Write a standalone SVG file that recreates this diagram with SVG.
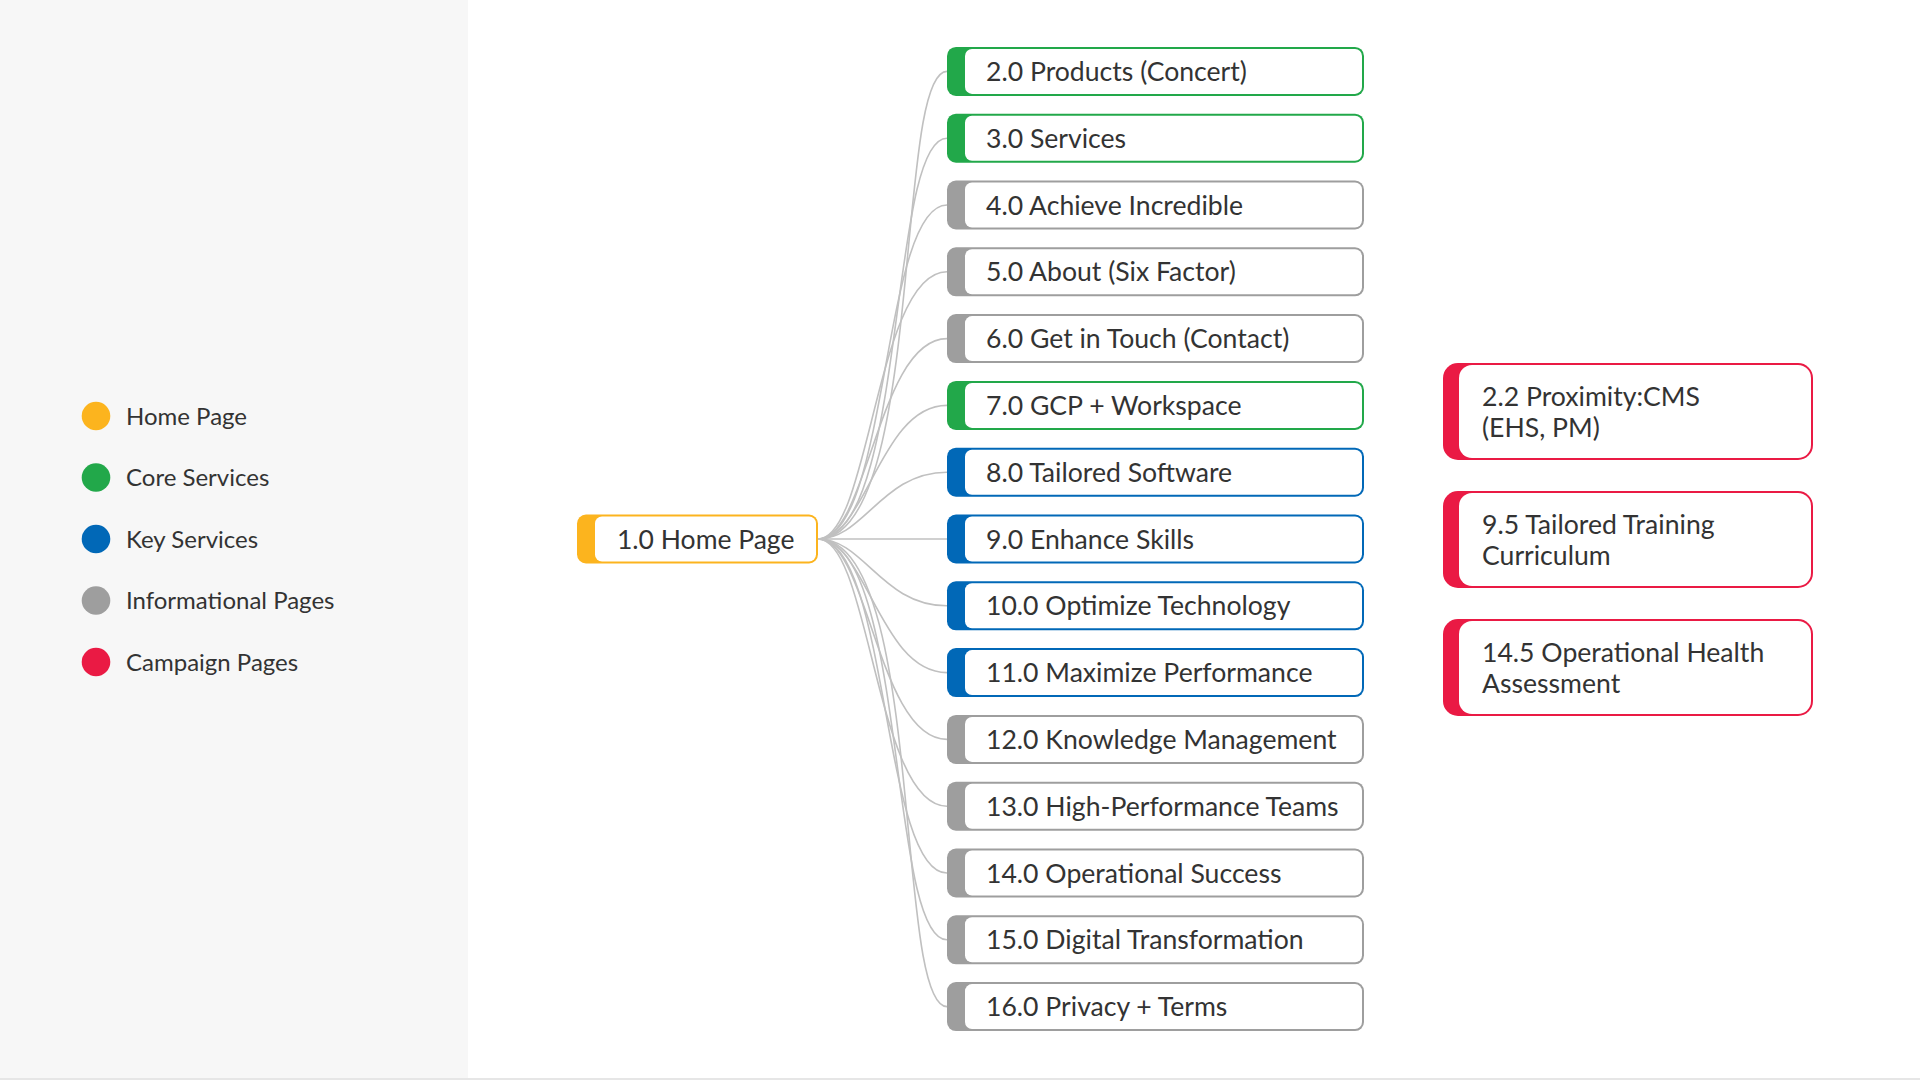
<svg xmlns="http://www.w3.org/2000/svg" width="1920" height="1080" viewBox="0 0 1920 1080">
<defs>
<style>
text { font-family: "Lato", "Liberation Sans", sans-serif; fill: #333333; }
.lg { font-size: 24px; }
.nt { font-size: 26.6px; }
.ht { font-size: 26.5px; }
.inner { fill: #ffffff; }
.edge { fill: none; stroke: #c0c0c0; stroke-width: 1.6; }
.home { fill: #FCB41E; }
.core { fill: #22A84A; }
.key { fill: #0168B7; }
.info { fill: #9E9E9E; }
.camp { fill: #EA1A44; }
</style>
</defs>
<rect x="0" y="0" width="1920" height="1080" fill="#ffffff"/>
<rect x="0" y="0" width="468" height="1078" fill="#f7f7f7"/>
<rect x="0" y="1078" width="1920" height="2" fill="#e6e6e6"/>

<g id="legend">
<g id="legend-home"><circle class="home" cx="96" cy="416" r="14.3"/><text class="lg" x="126" y="424.5">Home Page</text></g>
<g id="legend-core"><circle class="core" cx="96" cy="477.5" r="14.3"/><text class="lg" x="126" y="486">Core Services</text></g>
<g id="legend-key"><circle class="key" cx="96" cy="539" r="14.3"/><text class="lg" x="126" y="547.5">Key Services</text></g>
<g id="legend-info"><circle class="info" cx="96" cy="600.5" r="14.3"/><text class="lg" x="126" y="609">Informational Pages</text></g>
<g id="legend-camp"><circle class="camp" cx="96" cy="662" r="14.3"/><text class="lg" x="126" y="670.5">Campaign Pages</text></g>
</g>

<g id="connectors">
<path class="edge" d="M818 539 C925 539 894 71.4 947 71.4"/>
<path class="edge" d="M818 539 C906.8 539 888 138.2 947 138.2"/>
<path class="edge" d="M818 539 C888.4 539 882 205 947 205"/>
<path class="edge" d="M818 539 C870 539 876 271.8 947 271.8"/>
<path class="edge" d="M818 539 C868 539 878 338.6 947 338.6"/>
<path class="edge" d="M818 539 C866 539 880 405.4 947 405.4"/>
<path class="edge" d="M818 539 C864 539 882 472.2 947 472.2"/>
<path class="edge" d="M818 539 L947 539"/>
<path class="edge" d="M818 539 C864 539 882 605.8 947 605.8"/>
<path class="edge" d="M818 539 C866 539 880 672.6 947 672.6"/>
<path class="edge" d="M818 539 C868 539 878 739.4 947 739.4"/>
<path class="edge" d="M818 539 C870 539 876 806.2 947 806.2"/>
<path class="edge" d="M818 539 C888.4 539 882 873 947 873"/>
<path class="edge" d="M818 539 C906.8 539 888 939.8 947 939.8"/>
<path class="edge" d="M818 539 C925 539 894 1006.6 947 1006.6"/>
</g>

<g id="n1-0">
<rect class="home" x="577" y="514.5" width="241" height="49" rx="9"/>
<rect class="inner" x="595" y="516.5" width="221" height="45" rx="7"/>
<text class="ht" x="617" y="548.6">1.0 Home Page</text>
</g>

<g id="n2-0"><rect class="core" x="947" y="46.9" width="417" height="49" rx="9"/><rect class="inner" x="965" y="48.9" width="397" height="45" rx="7"/><text class="nt" x="986" y="80.9">2.0 Products (Concert)</text></g>
<g id="n3-0"><rect class="core" x="947" y="113.7" width="417" height="49" rx="9"/><rect class="inner" x="965" y="115.7" width="397" height="45" rx="7"/><text class="nt" x="986" y="147.7">3.0 Services</text></g>
<g id="n4-0"><rect class="info" x="947" y="180.5" width="417" height="49" rx="9"/><rect class="inner" x="965" y="182.5" width="397" height="45" rx="7"/><text class="nt" x="986" y="214.5">4.0 Achieve Incredible</text></g>
<g id="n5-0"><rect class="info" x="947" y="247.3" width="417" height="49" rx="9"/><rect class="inner" x="965" y="249.3" width="397" height="45" rx="7"/><text class="nt" x="986" y="281.3">5.0 About (Six Factor)</text></g>
<g id="n6-0"><rect class="info" x="947" y="314.1" width="417" height="49" rx="9"/><rect class="inner" x="965" y="316.1" width="397" height="45" rx="7"/><text class="nt" x="986" y="348.1">6.0 Get in Touch (Contact)</text></g>
<g id="n7-0"><rect class="core" x="947" y="380.9" width="417" height="49" rx="9"/><rect class="inner" x="965" y="382.9" width="397" height="45" rx="7"/><text class="nt" x="986" y="414.9">7.0 GCP + Workspace</text></g>
<g id="n8-0"><rect class="key" x="947" y="447.7" width="417" height="49" rx="9"/><rect class="inner" x="965" y="449.7" width="397" height="45" rx="7"/><text class="nt" x="986" y="481.7">8.0 Tailored Software</text></g>
<g id="n9-0"><rect class="key" x="947" y="514.5" width="417" height="49" rx="9"/><rect class="inner" x="965" y="516.5" width="397" height="45" rx="7"/><text class="nt" x="986" y="548.5">9.0 Enhance Skills</text></g>
<g id="n10-0"><rect class="key" x="947" y="581.3" width="417" height="49" rx="9"/><rect class="inner" x="965" y="583.3" width="397" height="45" rx="7"/><text class="nt" x="986" y="615.3">10.0 Optimize Technology</text></g>
<g id="n11-0"><rect class="key" x="947" y="648.1" width="417" height="49" rx="9"/><rect class="inner" x="965" y="650.1" width="397" height="45" rx="7"/><text class="nt" x="986" y="682.1">11.0 Maximize Performance</text></g>
<g id="n12-0"><rect class="info" x="947" y="714.9" width="417" height="49" rx="9"/><rect class="inner" x="965" y="716.9" width="397" height="45" rx="7"/><text class="nt" x="986" y="748.9">12.0 Knowledge Management</text></g>
<g id="n13-0"><rect class="info" x="947" y="781.7" width="417" height="49" rx="9"/><rect class="inner" x="965" y="783.7" width="397" height="45" rx="7"/><text class="nt" x="986" y="815.7">13.0 High-Performance Teams</text></g>
<g id="n14-0"><rect class="info" x="947" y="848.5" width="417" height="49" rx="9"/><rect class="inner" x="965" y="850.5" width="397" height="45" rx="7"/><text class="nt" x="986" y="882.5">14.0 Operational Success</text></g>
<g id="n15-0"><rect class="info" x="947" y="915.3" width="417" height="49" rx="9"/><rect class="inner" x="965" y="917.3" width="397" height="45" rx="7"/><text class="nt" x="986" y="949.3">15.0 Digital Transformation</text></g>
<g id="n16-0"><rect class="info" x="947" y="982.1" width="417" height="49" rx="9"/><rect class="inner" x="965" y="984.1" width="397" height="45" rx="7"/><text class="nt" x="986" y="1016.1">16.0 Privacy + Terms</text></g>

<g id="n2-2"><rect class="camp" x="1443" y="363" width="370" height="97" rx="15"/><rect class="inner" x="1459" y="365" width="352" height="93" rx="13"/><text class="nt" x="1482" y="405.5">2.2 Proximity:CMS</text><text class="nt" x="1482" y="437">(EHS, PM)</text></g>
<g id="n9-5"><rect class="camp" x="1443" y="491" width="370" height="97" rx="15"/><rect class="inner" x="1459" y="493" width="352" height="93" rx="13"/><text class="nt" x="1482" y="533.5">9.5 Tailored Training</text><text class="nt" x="1482" y="565">Curriculum</text></g>
<g id="n14-5"><rect class="camp" x="1443" y="619" width="370" height="97" rx="15"/><rect class="inner" x="1459" y="621" width="352" height="93" rx="13"/><text class="nt" x="1482" y="661.5">14.5 Operational Health</text><text class="nt" x="1482" y="693">Assessment</text></g>
</svg>
